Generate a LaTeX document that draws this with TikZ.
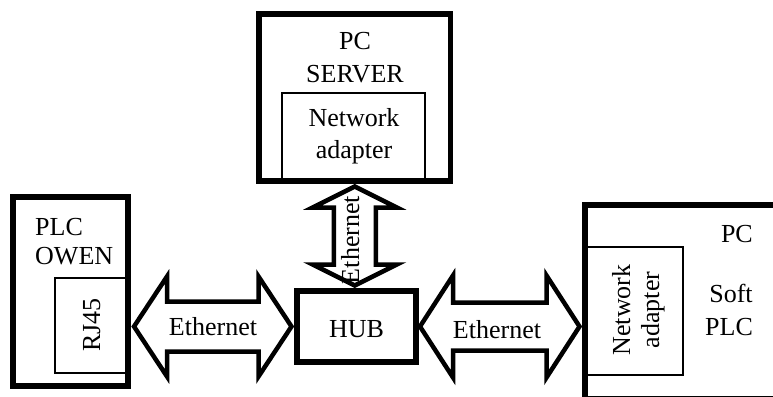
\documentclass[tikz,border=0pt]{standalone}
\usepackage{fontspec}
\setmainfont{Liberation Serif}
\usetikzlibrary{calc}
\tikzset{
  thickbox/.style={draw, line width=5.5pt, outer sep=0pt, inner sep=0pt},
  thinbox/.style={draw, line width=2pt, outer sep=0pt, inner sep=0pt},
  lbl/.style={font=\fontsize{26}{30}\selectfont, inner sep=0pt, anchor=base},
  blockarrow/.style={draw, fill=white, line width=4.5pt, line join=miter},
}
\newcommand\harr[5]{%
  \path[blockarrow] let \p1=(#1), \p2=(#2) in
    (\x1,\y1) -- (\x1+#3,\y1+#4) -- (\x1+#3,\y1+#5) -- (\x2-#3,\y1+#5) -- (\x2-#3,\y1+#4)
    -- (\x2,\y1) -- (\x2-#3,\y1-#4) -- (\x2-#3,\y1-#5) -- (\x1+#3,\y1-#5) -- (\x1+#3,\y1-#4) -- cycle;}
\newcommand\varr[5]{%
  \path[blockarrow] let \p1=(#1), \p2=(#2) in
    (\x1,\y1) -- (\x1+#4,\y1-#3) -- (\x1+#5,\y1-#3) -- (\x1+#5,\y2+#3) -- (\x1+#4,\y2+#3)
    -- (\x1,\y2) -- (\x1-#4,\y2+#3) -- (\x1-#5,\y2+#3) -- (\x1-#5,\y1-#3) -- (\x1-#4,\y1-#3) -- cycle;}
\begin{document}
\begin{tikzpicture}[x=1pt, y=-1pt]
\useasboundingbox (0,0) rectangle (773,396);
\clip (0,0) rectangle (773,396);
% boxes
\node[thickbox, minimum width=115pt, minimum height=189pt] (plc) at (70.5,291.5) {};
\node[thinbox, minimum width=73.5pt, minimum height=95pt] (rj) at (91.25,325.5) {};
\node[thickbox, minimum width=191.5pt, minimum height=167pt] (srv) at (354.75,97.5) {};
\node[thinbox, minimum width=143pt, minimum height=88pt] (srvna) at (353.5,137) {};
\node[thickbox, minimum width=119pt, minimum height=71pt] (hub) at (356.5,326.5) {};
\node[thickbox, minimum width=193pt, minimum height=194pt] (pc) at (681.5,302) {};
\node[thinbox, minimum width=98pt, minimum height=128pt] (pcna) at (634,311) {};
% connector end points
\coordinate (l1) at ($(plc.east |- hub.center)+(6,0)$);
\coordinate (l2) at ($(hub.west)+(-5.5,0)$);
\coordinate (r1) at ($(hub.east)+(4,0)$);
\coordinate (r2) at ($(pc.west |- hub.center)+(-5.5,0)$);
\coordinate (v1) at ($(srv.south)+(0,5.5)$);
\coordinate (v2) at ($(srv.south |- hub.north)+(0,-5.5)$);
% block arrows
\harr{l1}{l2}{33pt}{50pt}{25pt}
\harr{r1}{r2}{33pt}{51pt}{24pt}
\varr{v1}{v2}{21pt}{42pt}{21pt}
% labels
\node[lbl, anchor=base west] (t1) at (35,235) {PLC};
\node[lbl, anchor=base west] (t2) at (35,264) {OWEN};
\node[lbl, rotate=90] (t3) at (100,325) {RJ45};
\node[lbl] (t4) at (213,335) {Ethernet};
\node[lbl] (t5) at (356.5,337) {HUB};
\node[lbl] (t6) at (497,338) {Ethernet};
\node[lbl, rotate=90] (t7) at (359,240) {Ethernet};
\node[lbl] (t8) at (355,50) {PC};
\node[lbl] (t9) at (355,82) {SERVER};
\node[lbl] (t10) at (354,126) {Network};
\node[lbl] (t11) at (354,158) {adapter};
\node[lbl, rotate=90] (t12) at (630,310) {Network};
\node[lbl, rotate=90] (t13) at (659,310) {adapter};
\node[lbl, anchor=base east] (t14) at (753,242) {PC};
\node[lbl] (t15) at (731,302) {Soft};
\node[lbl] (t16) at (729,335) {PLC};
\end{tikzpicture}
\end{document}
